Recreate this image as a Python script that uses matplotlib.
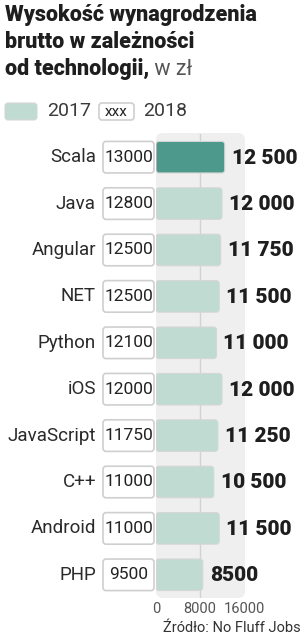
import matplotlib
matplotlib.use('Agg')
import matplotlib.pyplot as plt
import matplotlib.transforms as mtransforms
from matplotlib.patches import FancyBboxPatch

# data
technologies = ['Scala', 'Java', 'Angular', 'NET', 'Python', 'iOS',
                'JavaScript', 'C++', 'Android', 'PHP']
salary_2017 = [12500, 12000, 11750, 11500, 11000, 12000, 11250, 10500, 11500, 8500]
salary_2018 = [13000, 12800, 12500, 12500, 12100, 12000, 11750, 11000, 11000, 9500]
x_ticks = [0, 8000, 16000]

W, H = 302, 640
plt.rcParams['font.family'] = ['Roboto', 'DejaVu Sans']

DARK = '#4d998b'
LIGHT = '#bfdbd2'
TXT = '#1e1e1e'


def fx(px):
    return px / W


def fy(py):
    return 1 - py / H


def round_bars(ax, bars, radius_px):
    # swap the plain bar rectangles for rounded ones, same data coords
    bb = ax.get_window_extent()
    x0, x1 = ax.get_xlim()
    y0, y1 = ax.get_ylim()
    xpp = abs(x1 - x0) / bb.width
    ypp = abs(y1 - y0) / bb.height
    for b in bars:
        p = FancyBboxPatch((b.get_x(), b.get_y()), b.get_width(), b.get_height(),
                           boxstyle=f'round,pad=0,rounding_size={radius_px * xpp}',
                           mutation_aspect=ypp / xpp,
                           facecolor=b.get_facecolor(), edgecolor=b.get_edgecolor(),
                           linewidth=b.get_linewidth(), zorder=b.get_zorder())
        b.remove()
        ax.add_patch(p)


fig = plt.figure(figsize=(W / 100, H / 100), dpi=100)

# main axes: value 0 at x=156px, 16000 at 244px
ax = fig.add_axes([fx(156), fy(598), 88 / W, 464 / H])
ax.set_facecolor('none')
ax.set_xlim(0, 16000)
ax.set_ylim(9.5, -0.5)
for s in ax.spines.values():
    s.set_visible(False)

# grey rounded panel behind the bars
panel = FancyBboxPatch((1.56, (H - 598) / 100), 0.89, 4.65,
                       boxstyle='round,pad=0,rounding_size=0.07',
                       transform=fig.dpi_scale_trans,
                       facecolor='#efefef', edgecolor='none', zorder=-1)
fig.patches.append(panel)

ax.axvline(8000, color='#d2d2d2', lw=1, zorder=0)

ypos = list(range(len(technologies)))
colors = [DARK] + [LIGHT] * (len(technologies) - 1)
bars = ax.barh(ypos, salary_2017, height=0.68, color=colors,
               edgecolor='#d6d6d6', linewidth=0.8, zorder=2)

ax.set_xticks(x_ticks)
ax.set_xticklabels([str(t) for t in x_ticks], fontsize=10.5, color='#555555')
ax.tick_params(axis='x', length=0, pad=3)
ax.set_yticks([])

for i, v in enumerate(salary_2017):
    label = f'{v:,}'.replace(',', ' ') if v >= 10000 else str(v)
    ax.annotate(label, xy=(v, i), xytext=(7, -1), textcoords='offset pixels',
                va='center', ha='left', fontsize=15, fontweight='heavy', color=TXT)

# category names, right aligned left of the 2018 boxes
blend = mtransforms.blended_transform_factory(fig.transFigure, ax.transData)
for i, name in enumerate(technologies):
    ax.text(fx(96), i, name, transform=blend, ha='right', va='center',
            fontsize=13.5, color='#2a2a2a')

# 2018 boxes
bax = fig.add_axes([fx(102), fy(598), 53 / W, 464 / H])
bax.set_xlim(-0.02, 1.02)
bax.set_ylim(9.5, -0.5)
bax.axis('off')
boxes = bax.barh(ypos, [1] * len(ypos), height=0.68, color='white',
                 edgecolor='#cfcfcf', linewidth=1.2, zorder=2)
for i, v in enumerate(salary_2018):
    bax.text(0.5, i, str(v), ha='center', va='center', fontsize=12.5,
             color='#222222', zorder=3)

round_bars(ax, bars, 3)
round_bars(bax, boxes, 3)

# title
fig.text(fx(5), fy(21), 'Wysokość wynagrodzenia', fontsize=15.5,
         fontweight='heavy', color=TXT, va='baseline')
fig.text(fx(5), fy(48), 'brutto w zależności', fontsize=15.5,
         fontweight='heavy', color=TXT, va='baseline')
t3 = fig.text(fx(5), fy(75), 'od technologii,', fontsize=15.5,
              fontweight='heavy', color=TXT, va='baseline')
t4 = fig.text(0, fy(75), ' w zł', fontsize=15.5, color='#555555',
              va='baseline')
# place " w zł" right after the bold part
fig.canvas.draw()
ext = t3.get_window_extent()
t4.set_position((ext.x1 / fig.bbox.width, fy(75)))

# legend
fig.patches.append(FancyBboxPatch((0.05, (H - 120) / 100), 0.32, 0.17,
                                  boxstyle='round,pad=0,rounding_size=0.03',
                                  transform=fig.dpi_scale_trans,
                                  facecolor=LIGHT, edgecolor='#d6d6d6', lw=0.8))
fig.text(fx(47), fy(111.5), '2017', fontsize=14,
         color='#3a3a3a', va='center')
fig.patches.append(FancyBboxPatch((0.99, (H - 120) / 100), 0.35, 0.17,
                                  boxstyle='round,pad=0,rounding_size=0.03',
                                  transform=fig.dpi_scale_trans,
                                  facecolor='white', edgecolor='#cfcfcf', lw=1.2))
fig.text(fx(116.5), fy(112), 'xxx', fontsize=11, color='#222222',
         ha='center', va='center')
fig.text(fx(143), fy(111.5), '2018', fontsize=14,
         color='#3a3a3a', va='center')

# source
fig.text(fx(301), fy(628), 'Źródło: No Fluff Jobs', ha='right', va='center',
         fontsize=10.5, color='#333333')

fig.savefig('out.png', dpi=100)
